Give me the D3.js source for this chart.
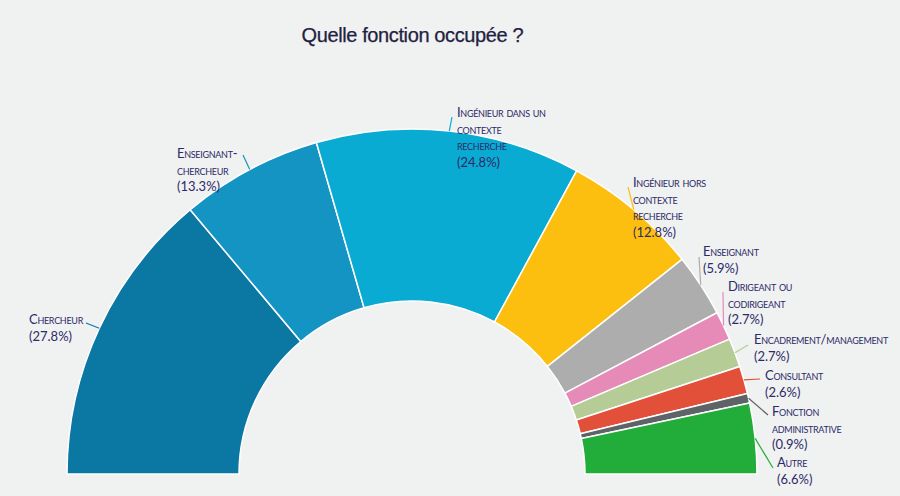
<!DOCTYPE html>
<html lang="fr">
<head>
<meta charset="UTF-8">
<title>Quelle fonction occupée ?</title>
<script src="https://cdn.jsdelivr.net/npm/d3@7"></script>
<style>
    html, body {
        margin: 0;
        padding: 0;
        background: #f0f1f1;
    }
    svg {
        display: block;
    }
    .title {
        font-family: "Liberation Sans", Arial, sans-serif;
        font-size: 20px;
        fill: #1f2142;
        stroke: #1f2142;
        stroke-width: 0.25px;
    }
    .label {
        font-family: Lato, "Noto Sans", sans-serif;
        font-size: 13px;
        fill: #2c2a68;
    }
    .label .name {
        font-variant: small-caps;
        letter-spacing: -0.3px;
    }
</style>
</head>
<body>
<div id="chart"></div>
<script>
    // Data
    const categories = [
        "Chercheur",
        "Enseignant-chercheur",
        "Ingénieur dans un contexte recherche",
        "Ingénieur hors contexte recherche",
        "Enseignant",
        "Dirigeant ou codirigeant",
        "Encadrement/management",
        "Consultant",
        "Fonction administrative",
        "Autre"
    ];
    const shares = [27.8, 13.3, 24.8, 12.8, 5.9, 2.7, 2.7, 2.6, 0.9, 6.6];
    const colors = [
        "#0b77a3", "#1494c3", "#0aabd2", "#fdbf0f", "#adadad",
        "#e68ab8", "#b6cc97", "#e2503a", "#5e6367", "#22ad3b"
    ];

    // How each label is broken into lines
    const labelLines = [
        ["Chercheur"],
        ["Enseignant-", "chercheur"],
        ["Ingénieur dans un", "contexte", "recherche"],
        ["Ingénieur hors", "contexte", "recherche"],
        ["Enseignant"],
        ["Dirigeant ou", "codirigeant"],
        ["Encadrement/management"],
        ["Consultant"],
        ["Fonction", "administrative"],
        ["Autre"]
    ];

    // Label placement: text start (first baseline), leader end
    const labelLayout = [
        { x: 29,  y: 324, lx: 86,  ly: 323 },
        { x: 177, y: 158, lx: 243, ly: 155 },
        { x: 457, y: 117, lx: 452, ly: 117 },
        { x: 633, y: 187, lx: 628, ly: 187 },
        { x: 703, y: 256, lx: 699, ly: 257 },
        { x: 728, y: 291, lx: 723, ly: 292 },
        { x: 754, y: 344, lx: 748, ly: 345 },
        { x: 765, y: 380, lx: 760, ly: 379 },
        { x: 772, y: 416, lx: 768, ly: 415 },
        { x: 777, y: 467, lx: 773, ly: 468 }
    ];

    const width = 900, height = 496;
    const cx = 412, cy = 474;
    const outerR = 345, innerR = 173;
    const lineH = 16.7;

    const slices = categories.map((c, i) => ({ name: c, value: shares[i], color: colors[i], lines: labelLines[i], pos: labelLayout[i] }));

    const svg = d3.select("#chart")
        .append("svg")
        .attr("width", width)
        .attr("height", height);

    svg.append("text")
        .attr("class", "title")
        .attr("x", cx + 0.5)
        .attr("y", 42)
        .attr("text-anchor", "middle")
        .attr("textLength", 222)
        .text("Quelle fonction occupée ?");

    const pie = d3.pie()
        .sort(null)
        .value(d => d.value)
        .startAngle(-Math.PI / 2)
        .endAngle(Math.PI / 2);

    const arc = d3.arc()
        .innerRadius(innerR)
        .outerRadius(outerR);

    const edge = d3.arc()
        .innerRadius(outerR)
        .outerRadius(outerR);

    const g = svg.append("g")
        .attr("transform", `translate(${cx},${cy})`);

    const arcs = pie(slices);

    g.selectAll("path.slice")
        .data(arcs)
        .join("path")
        .attr("class", "slice")
        .attr("d", arc)
        .attr("fill", d => d.data.color)
        .attr("stroke", "#ffffff")
        .attr("stroke-width", 1.5)
        .attr("stroke-linejoin", "round");

    // Leader lines from the outer rim to the labels
    g.selectAll("line.leader")
        .data(arcs)
        .join("line")
        .attr("class", "leader")
        .attr("x1", d => edge.centroid(d)[0])
        .attr("y1", d => edge.centroid(d)[1])
        .attr("x2", d => d.data.pos.lx - cx)
        .attr("y2", d => d.data.pos.ly - cy)
        .attr("stroke", d => d.data.color)
        .attr("stroke-width", 1.2);

    const fmt = d3.format(".1f");

    const labels = svg.selectAll("text.label")
        .data(arcs)
        .join("text")
        .attr("class", "label")
        .attr("x", d => d.data.pos.x)
        .attr("y", d => d.data.pos.y);

    labels.each(function(d) {
        const t = d3.select(this);
        d.data.lines.forEach((line, i) => {
            t.append("tspan")
                .attr("class", "name")
                .attr("x", d.data.pos.x)
                .attr("dy", i === 0 ? 0 : lineH)
                .text(line);
        });
        t.append("tspan")
            .attr("x", d.data.pos.x)
            .attr("dy", lineH)
            .text(`(${fmt(d.data.value)}%)`);
    });
</script>
</body>
</html>
